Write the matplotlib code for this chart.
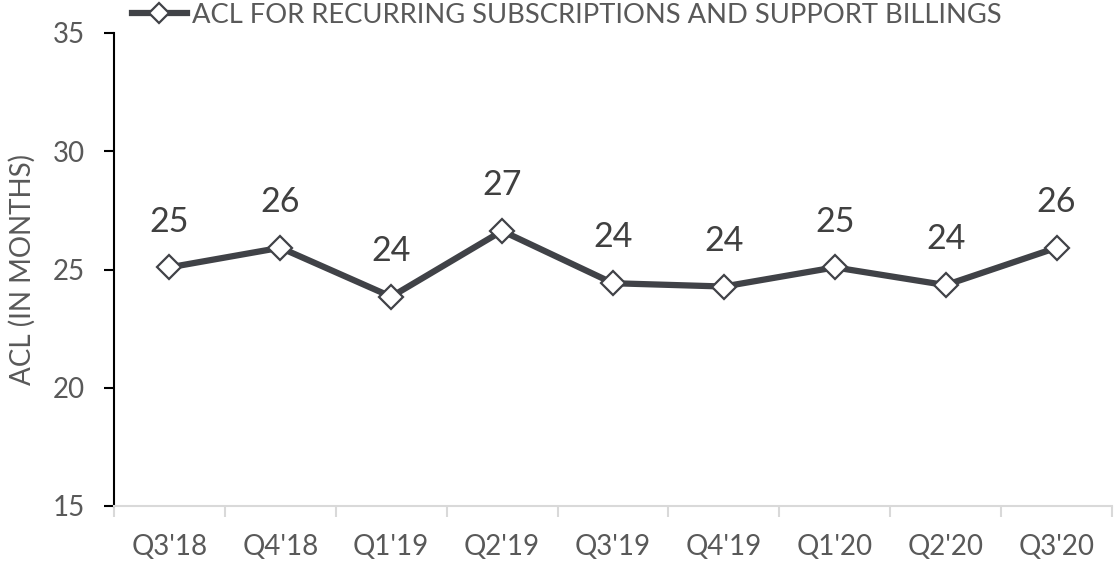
import numpy as np
import matplotlib
matplotlib.use("Agg")
import matplotlib.pyplot as plt

quarters = ["Q3'18", "Q4'18", "Q1'19", "Q2'19", "Q3'19", "Q4'19", "Q1'20", "Q2'20", "Q3'20"]
acl = [25.09, 25.92, 23.85, 26.63, 24.42, 24.28, 25.09, 24.34, 25.92]
labels = ["25", "26", "24", "27", "24", "24", "25", "24", "26"]
series_name = "ACL FOR RECURRING SUBSCRIPTIONS AND SUPPORT BILLINGS"

plt.rcParams['font.family'] = ['Lato', 'DejaVu Sans']
txt_col = '#595959'
line_col = '#404247'

fig = plt.figure(figsize=(11.15, 5.66), dpi=100)
ax = fig.add_axes([114/1115, 60/566, 998/1115, 473/566])

x = np.arange(len(quarters))
ax.plot(x, acl, color=line_col, lw=4.5, marker='D', markersize=12.5,
        markerfacecolor='white', markeredgecolor=line_col, markeredgewidth=1.6,
        label=series_name, zorder=3)

for xi, yi, lab in zip(x, acl, labels):
    ax.annotate(lab, (xi, yi), xytext=(0, 33), textcoords='offset points',
                ha='center', va='center', fontsize=24.5, color='#404040')

ax.set_xlim(-0.5, len(quarters) - 0.5)
ax.set_ylim(15, 35)
ax.set_yticks([15, 20, 25, 30, 35])
ax.set_xticks(x)
ax.set_xticklabels(quarters)
ax.set_xticks(np.arange(-0.5, len(quarters)), minor=True)

for s in ['top', 'right']:
    ax.spines[s].set_visible(False)
ax.spines['left'].set_color('black')
ax.spines['left'].set_linewidth(1.5)
ax.spines['bottom'].set_color('#d9d9d9')
ax.spines['bottom'].set_linewidth(1.5)

ax.tick_params(axis='y', length=7, width=1.5, color='black', pad=14,
               labelsize=20, labelcolor=txt_col)
ax.tick_params(axis='x', which='major', length=0, pad=20,
               labelsize=20, labelcolor=txt_col)
ax.tick_params(axis='x', which='minor', length=8, width=1.5, color='#d9d9d9')

ax.set_ylabel("ACL (IN MONTHS)", fontsize=20, color=txt_col, labelpad=12)

leg = ax.legend(loc='center left', bbox_to_anchor=(0.018, 1.038), frameon=False,
                fontsize=19.7, labelcolor=txt_col, handlelength=2.0,
                handletextpad=0.2, borderaxespad=0, borderpad=0)
for h in leg.legend_handles:
    h.set_markersize(10)

fig.savefig("out.png", dpi=100)
